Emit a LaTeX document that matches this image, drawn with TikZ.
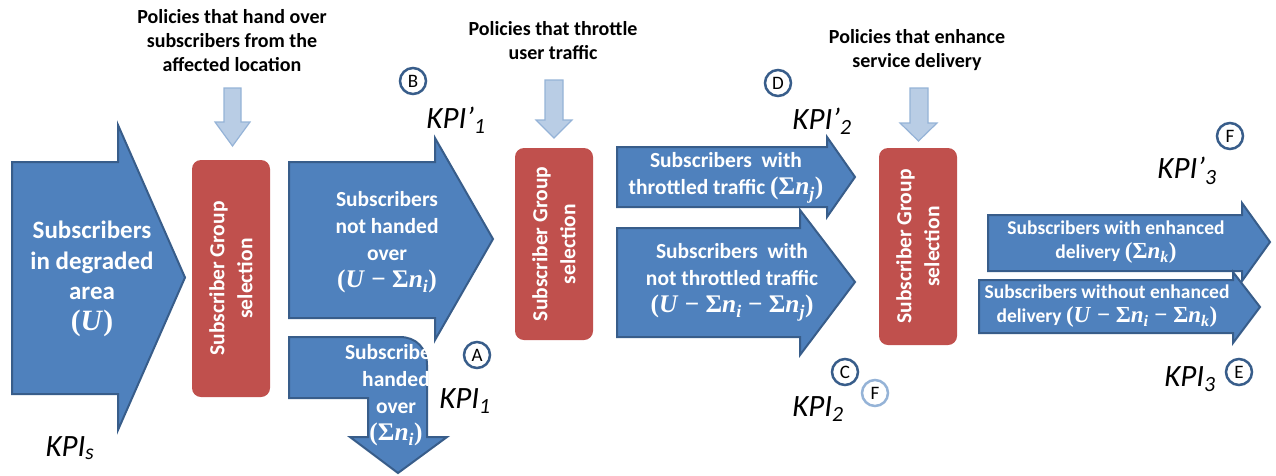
\documentclass[tikz,border=0pt]{standalone}
\usepackage{fontspec}
\newfontfamily\calibri{Carlito}
\newfontfamily\cambria[Scale=1.18]{Liberation Serif}
\newcommand\fml[1]{{\cambria\bfseries #1}}
\newcommand\vv[1]{\textit{#1}}
\definecolor{arrowblue}{RGB}{79,129,189}
\definecolor{arrowline}{RGB}{56,93,138}
\definecolor{selred}{RGB}{192,80,77}
\definecolor{polblue}{RGB}{185,205,229}
\definecolor{polline}{RGB}{149,179,215}
\tikzset{blk/.style = {draw=arrowline, fill=arrowblue, line width=2},
         pol/.style = {draw=polline, fill=polblue, line width=1.2},
         sel/.style = {rotate=90, fill=selred, rounded corners=9, text=white, align=center,
                       minimum height=78, font=\calibri\bfseries\fontsize{21.5}{28}\selectfont},
         lbl/.style 2 args = {text=white, align=center, inner sep=0,
                       font=\calibri\bfseries\fontsize{#1}{#2}\selectfont},
         ttl/.style = {align=center, inner sep=0, font=\calibri\bfseries\fontsize{20}{24}\selectfont},
         kpi/.style = {inner sep=0, font=\calibri\itshape\fontsize{31}{31}\selectfont},
         tag/.style = {circle, draw=arrowline, line width=2.5, fill=white, minimum size=26,
                       inner sep=0, font=\calibri\fontsize{19}{19}\selectfont}}

\begin{document}
\begin{tikzpicture}[x=1pt, y=-1pt]
    \useasboundingbox (0,0) rectangle (1276,475);
    % hand over
    \node[ttl] (pol1) at (232,41) {Policies that hand over\\subscribers from the\\affected location};
    \draw[pol] (224,88) -- (241,88) -- (241,122) -- (250,122) -- (232.5,146) -- (215,122) -- (224,122) -- cycle;
    \draw[blk] (12,162) -- (118,162) -- (118,125) -- (185,277.5) -- (118,430) -- (118,394) -- (12,394) -- cycle;
    \node[lbl={25}{30.5}] (area) at (92,279) {Subscribers\\in degraded\\area\\\fml{(\vv{U})}};
    \node[sel, minimum width=237] (sel1) at (231,278.5) {Subscriber Group\\selection};
    \node[kpi] (kpis) at (70,448) {KPI\textsubscript{s}};
    \draw[blk] (289,162) -- (435,162) -- (435,138) -- (493,239) -- (435,340) -- (435,318) -- (289,318) -- cycle;
    \node[lbl={21.5}{27}] (kept) at (387,242) {Subscribers\\not handed\\over\\\fml{(\vv{U} − Σ\vv{n}\textsubscript{\vv{i}})}};
    \draw[blk] (289,337) -- (400,337) .. controls (416,337) and (427,348) .. (427,365) -- (427,437)
        -- (447,437) -- (398,473) -- (350,437) -- (368,437) -- (368,398) -- (289,398) -- cycle;
    \node[lbl={21.5}{27}] (moved) at (396,395) {Subscribers\\handed\\over\\\fml{(Σ\vv{n}\textsubscript{\vv{i}})}};
    \node[tag] (tb) at (413,81) {B};
    \node[kpi] (kpi1p) at (456,120) {KPI’\textsubscript{1}};
    \node[tag] (ta) at (477,355) {A};
    \node[kpi] (kpi1) at (465,401) {KPI\textsubscript{1}};
    % throttle
    \node[ttl] (pol2) at (553,41) {Policies that throttle\\user traffic};
    \draw[pol] (545,80) -- (563,80) -- (563,120) -- (572,120) -- (554,138) -- (536,120) -- (545,120) -- cycle;
    \node[sel, minimum width=192] (sel2) at (554,244) {Subscriber Group\\selection};
    \draw[blk] (617,147) -- (827,147) -- (827,137) -- (855,177) -- (827,217) -- (827,207) -- (617,207) -- cycle;
    \node[lbl={21.5}{27}] (thr) at (726,178) {Subscribers\ \ with\\throttled traffic \fml{(Σ\vv{n}\textsubscript{\vv{j}})}};
    \draw[blk] (617,228) -- (800,228) -- (800,210) -- (855,282) -- (800,355) -- (800,337) -- (617,337) -- cycle;
    \node[lbl={21.5}{27}] (nthr) at (732,282) {Subscribers\ \ with\\not throttled traffic\\\fml{(\vv{U} − Σ\vv{n}\textsubscript{\vv{i}} − Σ\vv{n}\textsubscript{\vv{j}})}};
    \node[tag] (td) at (778,83) {D};
    \node[kpi] (kpi2p) at (822,121) {KPI’\textsubscript{2}};
    \node[tag] (tc) at (845,372) {C};
    \node[tag, draw=polline] (tf1) at (875,393) {F};
    \node[kpi] (kpi2) at (818,409) {KPI\textsubscript{2}};
    % enhance
    \node[ttl] (pol3) at (917,50) {Policies that enhance\\service delivery};
    \draw[pol] (910,88) -- (928,88) -- (928,123) -- (937,123) -- (918.5,141) -- (900,123) -- (910,123) -- cycle;
    \node[sel, minimum width=197] (sel3) at (918,246.5) {Subscriber Group\\selection};
    \draw[blk] (988,215) -- (1242,215) -- (1242,203) -- (1270,242) -- (1242,281) -- (1242,271) -- (988,271) -- cycle;
    \node[lbl={19.5}{24}] (enh) at (1116,242) {Subscribers with enhanced\\delivery \fml{(Σ\vv{n}\textsubscript{\vv{k}})}};
    \draw[blk] (979,280) -- (1233,280) -- (1233,272) -- (1260,307) -- (1233,343) -- (1233,333) -- (979,333) -- cycle;
    \node[lbl={19.5}{24}] (nenh) at (1107,306) {Subscribers without enhanced\\delivery \fml{(\vv{U} − Σ\vv{n}\textsubscript{\vv{i}} − Σ\vv{n}\textsubscript{\vv{k}})}};
    \node[tag] (tf2) at (1230,136) {F};
    \node[kpi] (kpi3p) at (1187,171) {KPI’\textsubscript{3}};
    \node[kpi] (kpi3) at (1190,379) {KPI\textsubscript{3}};
    \node[tag] (te) at (1239,372) {E};
\end{tikzpicture}
\end{document}
